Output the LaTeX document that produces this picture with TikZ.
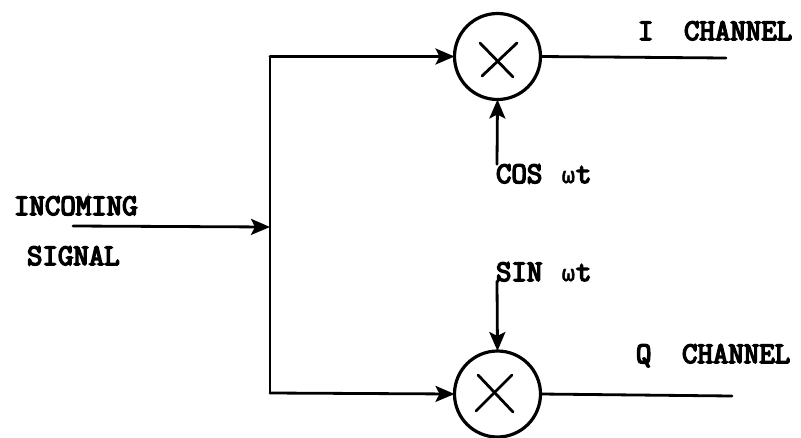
\documentclass[tikz,border=0pt]{standalone}
\usepackage{fontspec}
\usetikzlibrary{arrows.meta}
\newfontfamily\labelfont{Latin Modern Mono}[BoldFont={Latin Modern Mono}, BoldFeatures={FakeBold=5}]
\newfontfamily\greekfont{DejaVu Sans Mono}[BoldFont={DejaVu Sans Mono}, BoldFeatures={FakeBold=2}]
\tikzset{
  wire/.style={line width=2.8pt, line cap=round},
  arr/.style={wire, -{Stealth[length=19pt,width=16pt,inset=4pt]}},
  mixer/.style={circle, draw, line width=3.2pt, minimum size=86pt, inner sep=0pt, outer sep=0pt},
  cross/.style={line width=2.8pt, line cap=round},
  lab/.style={anchor=base west, inner sep=0pt, outer sep=0pt, font=\fontsize{30}{30}\labelfont\bfseries}
}
\newcommand{\om}{\hspace{4pt}{\fontsize{22}{22}\greekfont\bfseries ω}\hspace{1pt}}
\begin{document}
\begin{tikzpicture}[x=1pt,y=-1pt]
\useasboundingbox (0,0) rectangle (801,437);
\node[mixer] (m1) at (497.5,56.5) {};
\node[mixer] (m2) at (497.5,394) {};
\coordinate (top) at (270,56.5);
\coordinate (bot) at (270,393);
\coordinate (in) at (73,226);
\coordinate (junc) at (270,227);
\coordinate (iend) at (726,58);
\coordinate (qend) at (732,396);
\coordinate (x1a) at (480,43); \coordinate (x1b) at (513,77);
\coordinate (x1c) at (517,43); \coordinate (x1d) at (482,76);
\coordinate (x2a) at (478,375); \coordinate (x2b) at (513,412);
\coordinate (x2c) at (512,375); \coordinate (x2d) at (476,411);
\node[lab] (incoming) at (14,215) {INCOMING};
\node[lab] (signal) at (27,265) {SIGNAL};
\node[lab] (ilab) at (638,40) {I};
\node[lab] (ichan) at (684,40) {CHANNEL};
\node[lab] (qlab) at (636,363) {Q};
\node[lab] (qchan) at (682,363) {CHANNEL};
\node[lab] (cos) at (496,183) {COS \om t};
\node[lab] (sin) at (496,281) {SIN \om t};
\draw[wire] (top) -- (bot);
\draw[arr] (in) -- (junc);
\draw[arr] (top) -- (m1.west);
\draw[arr] (bot) -- (m2.west);
\draw[wire] (m1.east) -- (iend);
\draw[wire] (m2.east) -- (qend);
\draw[arr] (cos.north west) ++(1,0) coordinate (cosfoot) (cosfoot) -- (m1.south);
\draw[arr] (sin.south west) ++(1,0) coordinate (sinfoot) (sinfoot) -- (m2.north);
\draw[cross] (x1a) -- (x1b);
\draw[cross] (x1c) -- (x1d);
\draw[cross] (x2a) -- (x2b);
\draw[cross] (x2c) -- (x2d);
\end{tikzpicture}
\end{document}
